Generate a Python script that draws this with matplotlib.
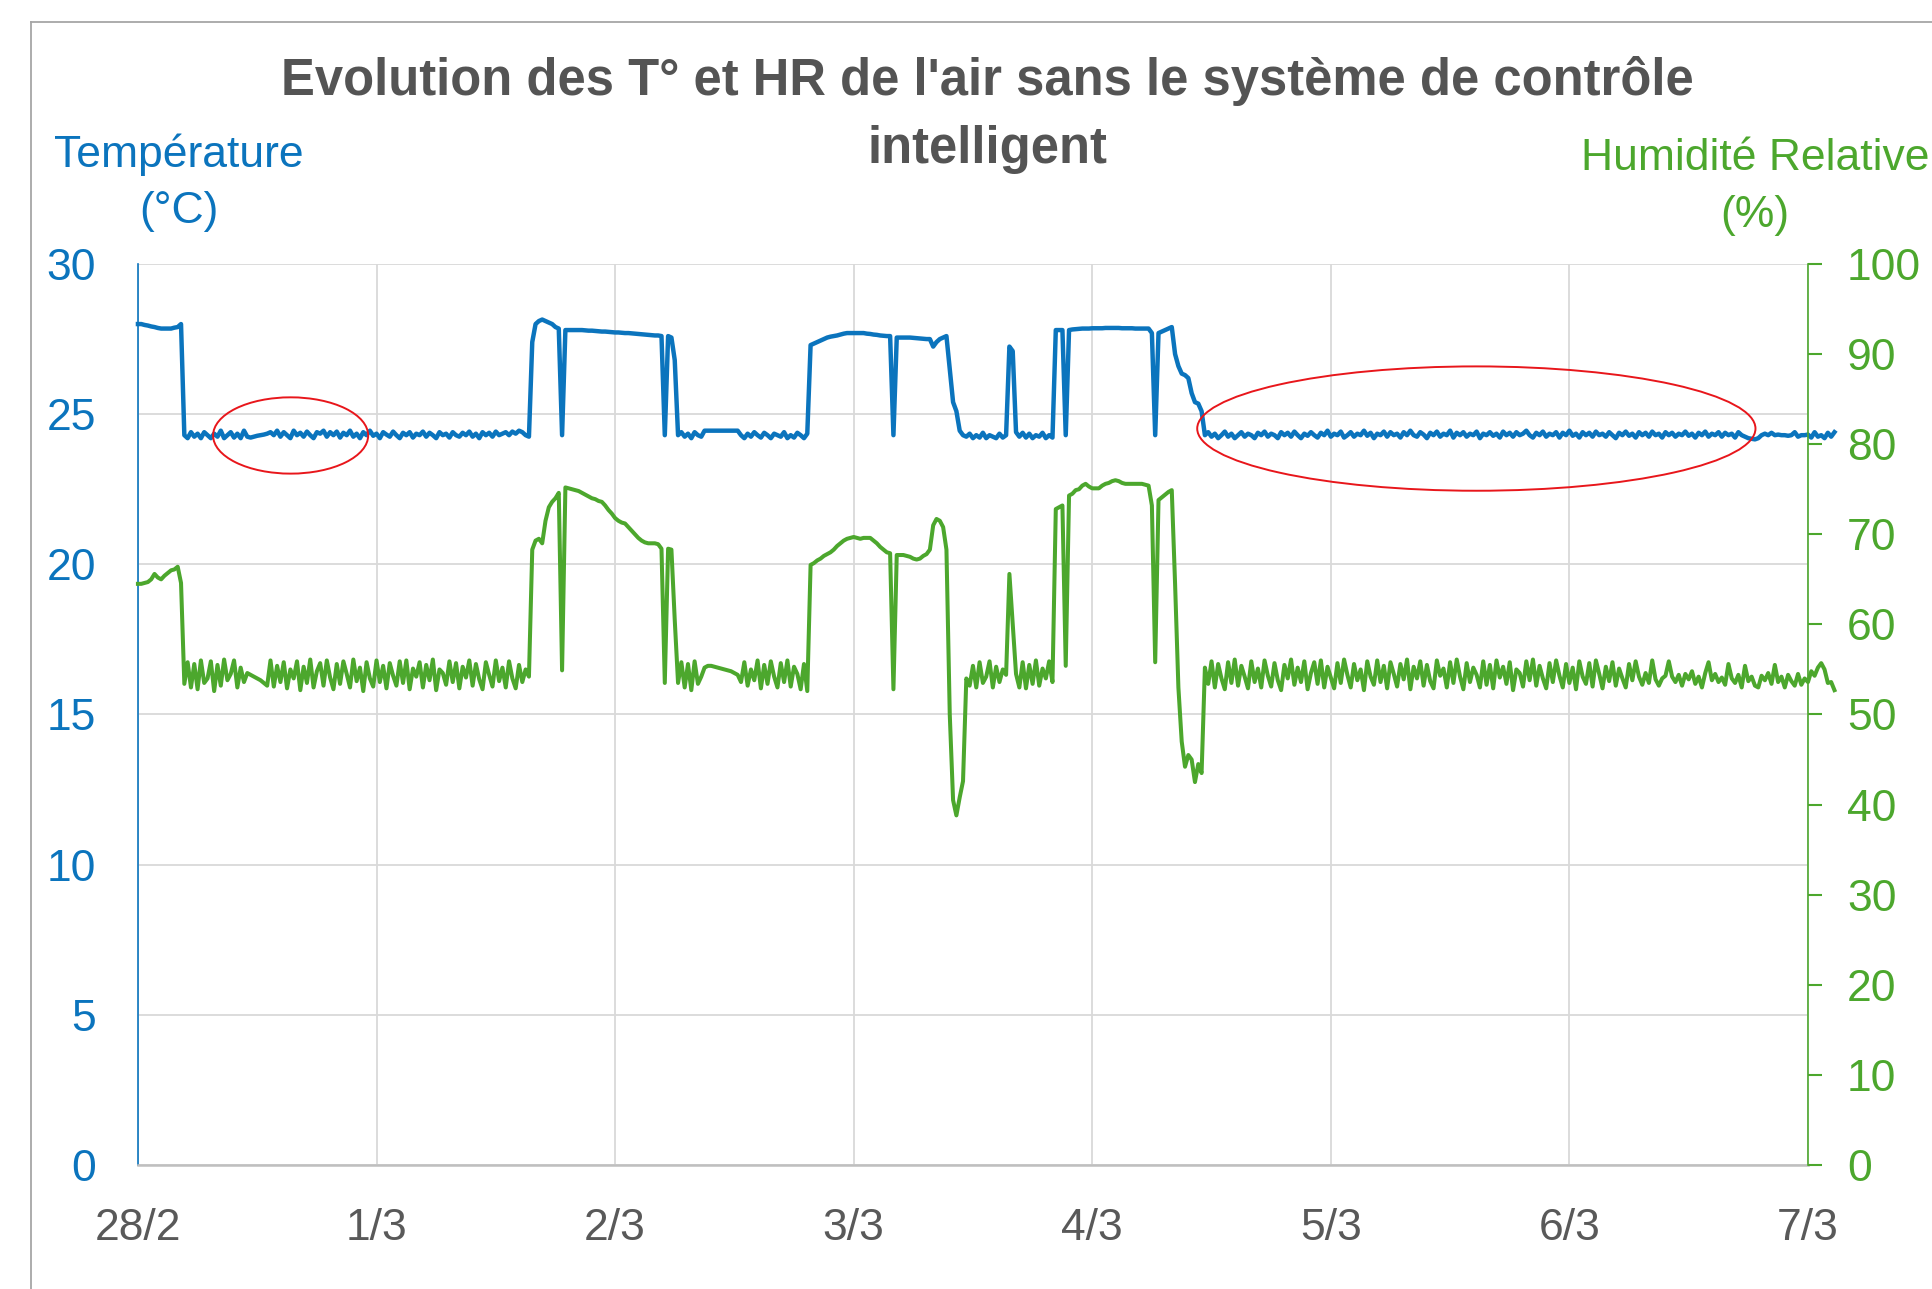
import numpy as np
import pandas as pd
import matplotlib
matplotlib.use('Agg')
import matplotlib.pyplot as plt
from matplotlib.patches import Ellipse
from matplotlib.lines import Line2D

plt.rcParams['font.family'] = ['Liberation Sans', 'DejaVu Sans']

# releves toutes les 20 minutes a partir du 28/2
debut = '2021-02-28'

temperature = [
    28.0, 28.0, 27.97, 27.95, 27.92, 27.9, 27.87, 27.85, 27.85, 27.85,
    27.85, 27.88, 27.9, 28.0, 24.3, 24.2, 24.4, 24.25, 24.35, 24.2,
    24.4, 24.3, 24.2, 24.35, 24.25, 24.45, 24.2, 24.3, 24.4, 24.22,
    24.35, 24.2, 24.45, 24.25, 24.22, 24.25, 24.28, 24.3, 24.32, 24.35,
    24.4, 24.3, 24.45, 24.25, 24.4, 24.3, 24.2, 24.45, 24.3, 24.38,
    24.25, 24.42, 24.3, 24.2, 24.4, 24.35, 24.45, 24.25, 24.4, 24.3,
    24.42, 24.22, 24.38, 24.3, 24.45, 24.25, 24.35, 24.2, 24.4, 24.3,
    24.45, 24.28, 24.35, 24.2, 24.4, 24.32, 24.25, 24.42, 24.3, 24.2,
    24.38, 24.3, 24.4, 24.22, 24.35, 24.3, 24.42, 24.25, 24.38, 24.3,
    24.2, 24.4, 24.3, 24.35, 24.22, 24.4, 24.3, 24.25, 24.38, 24.3,
    24.42, 24.25, 24.35, 24.2, 24.4, 24.3, 24.38, 24.25, 24.42, 24.3,
    24.35, 24.4, 24.3, 24.42, 24.35, 24.45, 24.4, 24.3, 24.25, 27.4,
    28.0, 28.1, 28.15, 28.1, 28.05, 28.0, 27.9, 27.85, 24.3, 27.8,
    27.8, 27.8, 27.8, 27.8, 27.8, 27.79, 27.78, 27.78, 27.77, 27.76,
    27.75, 27.75, 27.74, 27.73, 27.72, 27.72, 27.71, 27.7, 27.7, 27.69,
    27.68, 27.67, 27.66, 27.65, 27.64, 27.63, 27.62, 27.62, 27.6, 24.3,
    27.6, 27.55, 26.8, 24.3, 24.4, 24.25, 24.35, 24.2, 24.4, 24.3,
    24.25, 24.45, 24.45, 24.45, 24.45, 24.45, 24.45, 24.45, 24.45, 24.45,
    24.45, 24.45, 24.3, 24.2, 24.35, 24.25, 24.4, 24.3, 24.22, 24.38,
    24.3, 24.2, 24.35, 24.3, 24.25, 24.4, 24.2, 24.3, 24.22, 24.38,
    24.3, 24.2, 24.35, 27.3, 27.35, 27.4, 27.45, 27.5, 27.55, 27.58,
    27.6, 27.62, 27.65, 27.68, 27.7, 27.7, 27.7, 27.7, 27.7, 27.7,
    27.68, 27.67, 27.65, 27.64, 27.62, 27.61, 27.6, 27.6, 24.3, 27.55,
    27.55, 27.55, 27.55, 27.55, 27.54, 27.53, 27.52, 27.51, 27.5, 27.5,
    27.25, 27.4, 27.5, 27.55, 27.6, 26.5, 25.4, 25.1, 24.45, 24.3,
    24.25, 24.35, 24.2, 24.3, 24.22, 24.38, 24.2, 24.3, 24.25, 24.2,
    24.35, 24.22, 24.3, 27.25, 27.1, 24.4, 24.25, 24.38, 24.22, 24.35,
    24.2, 24.3, 24.25, 24.38, 24.2, 24.3, 24.22, 27.8, 27.8, 27.8,
    24.3, 27.8, 27.82, 27.83, 27.84, 27.85, 27.85, 27.85, 27.86, 27.86,
    27.86, 27.86, 27.87, 27.87, 27.87, 27.87, 27.87, 27.86, 27.86, 27.86,
    27.86, 27.85, 27.85, 27.85, 27.85, 27.85, 27.7, 24.3, 27.7, 27.75,
    27.8, 27.85, 27.9, 27.0, 26.6, 26.35, 26.3, 26.2, 25.7, 25.4,
    25.35, 25.1, 24.3, 24.4, 24.25, 24.35, 24.2, 24.3, 24.42, 24.25,
    24.35, 24.2, 24.3, 24.4, 24.25, 24.35, 24.3, 24.2, 24.38, 24.3,
    24.42, 24.25, 24.35, 24.3, 24.2, 24.4, 24.3, 24.38, 24.25, 24.42,
    24.3, 24.2, 24.35, 24.28, 24.4, 24.3, 24.22, 24.38, 24.3, 24.45,
    24.25, 24.35, 24.3, 24.42, 24.22, 24.3, 24.4, 24.25, 24.35, 24.3,
    24.45, 24.28, 24.38, 24.2, 24.35, 24.3, 24.42, 24.25, 24.4, 24.3,
    24.35, 24.22, 24.4, 24.3, 24.45, 24.3, 24.25, 24.4, 24.32, 24.2,
    24.38, 24.3, 24.42, 24.25, 24.35, 24.3, 24.45, 24.22, 24.38, 24.3,
    24.4, 24.25, 24.35, 24.3, 24.42, 24.2, 24.35, 24.3, 24.4, 24.28,
    24.35, 24.22, 24.42, 24.3, 24.38, 24.25, 24.4, 24.3, 24.35, 24.45,
    24.3, 24.22, 24.38, 24.3, 24.42, 24.25, 24.35, 24.3, 24.4, 24.22,
    24.38, 24.3, 24.45, 24.28, 24.35, 24.22, 24.4, 24.3, 24.38, 24.25,
    24.42, 24.3, 24.35, 24.25, 24.4, 24.3, 24.2, 24.38, 24.3, 24.42,
    24.28, 24.35, 24.22, 24.4, 24.3, 24.38, 24.25, 24.42, 24.3, 24.35,
    24.22, 24.4, 24.3, 24.38, 24.25, 24.35, 24.3, 24.42, 24.28, 24.35,
    24.22, 24.38, 24.3, 24.42, 24.25, 24.35, 24.3, 24.4, 24.25, 24.38,
    24.3, 24.35, 24.22, 24.4, 24.3, 24.25, 24.2, 24.18, 24.16, 24.2,
    24.3, 24.35, 24.3, 24.38, 24.3, 24.32, 24.3, 24.3, 24.28, 24.3,
    24.4, 24.25, 24.3, 24.3, 24.32, 24.22, 24.4, 24.25, 24.3, 24.2,
    24.38, 24.25, 24.4,
]

humidite = [
    64.5, 64.5, 64.6, 64.7, 65.0, 65.6, 65.2, 65.0, 65.4, 65.7,
    66.0, 66.1, 66.4, 64.6, 53.4, 55.8, 53.0, 55.6, 52.8, 56.0,
    53.5, 54.0, 55.9, 52.6, 55.5, 53.2, 56.1, 53.8, 54.5, 56.0,
    53.0, 55.2, 53.6, 54.6, 54.4, 54.2, 54.0, 53.8, 53.5, 53.2,
    56.0, 53.1, 55.4, 53.6, 55.8, 52.9, 55.0, 54.0, 55.9, 52.7,
    55.3, 53.5, 56.1, 53.0, 54.8, 55.7, 53.2, 56.0, 54.1, 52.8,
    55.6, 53.4, 55.9, 54.5, 53.0, 56.1, 53.7, 55.2, 52.6, 55.8,
    54.0, 53.1, 56.0, 53.6, 55.4, 52.9, 55.7, 54.3, 53.2, 55.9,
    53.5, 56.0, 52.8, 55.1, 54.2, 55.8, 53.0, 55.5, 53.8, 56.1,
    52.7, 55.0, 54.6, 53.3, 55.9, 53.6, 55.7, 52.9, 55.3, 54.1,
    56.0, 53.2, 55.6, 53.9, 52.8, 55.8, 54.4, 53.1, 56.0, 53.7,
    55.2, 53.0, 55.9, 54.0, 52.9, 55.5, 53.6, 55.0, 54.2, 68.3,
    69.3, 69.5, 69.0, 71.5, 73.0, 73.6, 74.0, 74.6, 54.9, 75.2,
    75.1, 75.0, 74.9, 74.8, 74.6, 74.4, 74.2, 74.0, 73.9, 73.7,
    73.6, 73.2, 72.7, 72.3, 71.8, 71.5, 71.3, 71.2, 70.8, 70.4,
    70.0, 69.6, 69.3, 69.1, 69.0, 69.0, 69.0, 68.9, 68.4, 53.5,
    68.4, 68.3, 60.5, 53.5, 55.8, 53.0, 55.6, 52.7, 55.9, 53.4,
    54.2, 55.2, 55.4, 55.4, 55.3, 55.2, 55.1, 55.0, 54.9, 54.8,
    54.6, 54.4, 53.6, 55.8, 53.2, 55.0, 53.8, 56.0, 52.9, 55.5,
    53.4, 55.9, 54.2, 53.0, 55.7, 53.6, 56.0, 53.1, 55.3, 54.5,
    52.8, 55.6, 52.6, 66.6, 66.8, 67.1, 67.3, 67.6, 67.8, 68.0,
    68.3, 68.7, 69.0, 69.3, 69.5, 69.6, 69.7, 69.6, 69.5, 69.6,
    69.6, 69.6, 69.3, 69.0, 68.6, 68.3, 68.0, 67.9, 52.8, 67.7,
    67.7, 67.7, 67.6, 67.5, 67.3, 67.2, 67.3, 67.6, 67.8, 68.3,
    71.0, 71.7, 71.5, 70.8, 68.3, 50.0, 40.5, 38.8, 40.8, 42.6,
    54.0, 53.2, 55.4, 53.0, 55.8, 53.5, 54.2, 55.9, 53.0, 55.3,
    53.6, 55.0, 54.4, 65.6, 60.0, 54.5, 53.0, 55.8, 52.9, 55.5,
    53.4, 56.0, 53.2, 55.1, 54.0, 55.9, 53.6, 72.8, 73.0, 73.2,
    55.4, 74.3, 74.5, 74.9, 75.0, 75.4, 75.6, 75.3, 75.1, 75.1,
    75.1, 75.4, 75.6, 75.7, 75.9, 76.0, 75.9, 75.7, 75.6, 75.6,
    75.6, 75.6, 75.6, 75.6, 75.5, 75.4, 73.2, 55.8, 73.8, 74.1,
    74.4, 74.7, 74.9, 64.5, 53.0, 47.0, 44.2, 45.5, 45.0, 42.5,
    44.5, 43.5, 55.2, 53.4, 55.9, 53.0, 55.6, 54.0, 52.8, 55.8,
    53.5, 56.1, 53.2, 55.4, 54.2, 52.9, 55.9, 53.6, 55.1, 53.0,
    56.0, 54.3, 53.1, 55.7, 53.8, 52.7, 55.5, 54.0, 56.1, 53.3,
    55.2, 53.6, 55.9, 52.8, 54.6, 55.8, 53.4, 56.0, 53.0, 55.3,
    54.1, 52.9, 55.7, 53.5, 56.1, 54.4, 53.0, 55.6, 53.8, 55.0,
    52.7, 55.9, 54.2, 53.3, 56.0, 53.6, 55.4, 52.9, 55.8, 54.5,
    53.1, 55.6, 53.9, 56.1, 52.8, 55.3, 54.0, 55.9, 53.2, 55.5,
    53.7, 52.9, 56.0, 54.3, 55.1, 53.0, 55.8, 53.5, 56.1, 54.2,
    52.8, 55.7, 53.6, 55.2, 54.4, 53.0, 55.9, 53.3, 55.5, 52.9,
    56.0, 54.1, 55.3, 53.4, 55.8, 52.7, 55.0, 54.6, 53.1, 55.9,
    53.8, 56.1, 53.2, 55.4, 54.0, 52.9, 55.7, 53.6, 56.0, 54.3,
    53.0, 55.6, 53.5, 55.2, 52.8, 55.9, 54.2, 53.4, 55.7, 53.1,
    56.0, 54.5, 52.9, 55.3, 53.7, 55.8, 53.2, 55.1, 54.0, 53.0,
    55.6, 53.8, 55.9, 54.2, 53.3, 54.6, 53.5, 56.0, 53.9, 53.2,
    54.0, 54.3, 55.9, 54.2, 53.6, 54.4, 53.2, 54.5, 53.9, 54.8,
    53.4, 54.2, 53.0, 54.6, 55.8, 53.8, 54.5, 53.6, 54.1, 53.3,
    55.6, 54.0, 53.5, 54.4, 53.0, 55.4, 53.7, 54.2, 53.2, 53.0,
    54.3, 53.8, 54.6, 53.4, 55.5, 53.6, 54.2, 53.0, 54.4, 53.7,
    53.2, 54.5, 53.3, 54.0, 53.6, 54.8, 54.3, 55.2, 55.7, 55.0,
    53.5, 53.6, 52.7,
]

jours = pd.date_range(debut, periods=8, freq='D')
jours_labels = ['28/2', '1/3', '2/3', '3/3', '4/3', '5/3', '6/3', '7/3']
temp_ticks = [0, 5, 10, 15, 20, 25, 30]
hr_ticks = [0, 10, 20, 30, 40, 50, 60, 70, 80, 90, 100]

# zones entourees : (centre en jours depuis le debut, centre en degres, largeur en jours, hauteur en degres)
zones = [(0.64, 24.29, 0.65, 2.54), (5.61, 24.52, 2.34, 4.14)]

bleu = '#0B74BD'
vert = '#4CA72D'
gris = '#595959'

temps = pd.date_range(debut, periods=len(temperature), freq='20min')

fig = plt.figure(figsize=(19.32, 12.89), dpi=100)
ax = fig.add_axes([0.0714, 0.0962, 0.8644, 0.699])
ax2 = ax.twinx()

ax.plot(temps, temperature, color=bleu, lw=3.2, clip_on=False, zorder=3)
ax2.plot(temps, humidite, color=vert, lw=2.9, clip_on=False, zorder=3)

t0 = matplotlib.dates.date2num(pd.Timestamp(debut))
for cx, cy, w, h in zones:
    ax.add_patch(Ellipse((t0 + cx, cy), w, h, fill=False, edgecolor='#E8161B', lw=1.4, zorder=4))

ax.set_xlim(jours[0], jours[-1])
ax.set_ylim(0, 30)
ax2.set_ylim(0, 100)
ax.set_xticks(jours)
ax.set_xticklabels(jours_labels)
ax.set_yticks(temp_ticks)
ax2.set_yticks(hr_ticks)

ax.grid(True, color='#D9D9D9', lw=1.3)
ax.set_axisbelow(True)

for s in ['top', 'right']:
    ax.spines[s].set_visible(False)
for s in ['top', 'left', 'bottom']:
    ax2.spines[s].set_visible(False)
ax.spines['left'].set_color(bleu)
ax.spines['left'].set_linewidth(1.2)
ax.spines['bottom'].set_color('#BFBFBF')
ax.spines['bottom'].set_linewidth(1.8)
ax2.spines['right'].set_color(vert)
ax2.spines['right'].set_linewidth(1.2)

ax.tick_params(axis='y', length=0, pad=30, labelsize=32, labelcolor=bleu)
ax.tick_params(axis='x', length=0, pad=31, labelsize=32, labelcolor=gris)
ax2.tick_params(axis='y', length=10, width=1.5, color=vert, pad=18, labelsize=32, labelcolor=vert)

H = 1289.0
W = 1932.0
fig.text(987 / W, 1 - 95 / H, "Evolution des T° et HR de l'air sans le système de contrôle",
         ha='center', va='baseline', fontsize=36.5, fontweight='bold', color='#545454')
fig.text(987 / W, 1 - 163 / H, 'intelligent',
         ha='center', va='baseline', fontsize=36.5, fontweight='bold', color='#545454')
fig.text(179 / W, 1 - 167 / H, 'Température', ha='center', va='baseline', fontsize=32, color=bleu)
fig.text(179 / W, 1 - 223 / H, '(°C)', ha='center', va='baseline', fontsize=32, color=bleu)
fig.text(1755 / W, 1 - 170 / H, 'Humidité Relative', ha='center', va='baseline', fontsize=32, color=vert)
fig.text(1755 / W, 1 - 227 / H, '(%)', ha='center', va='baseline', fontsize=32, color=vert)

# cadre du graphique
fig.add_artist(Line2D([31 / W, 1], [1 - 22 / H, 1 - 22 / H], color='#A6A6A6', lw=1.3))
fig.add_artist(Line2D([31 / W, 31 / W], [0, 1 - 22 / H], color='#A6A6A6', lw=1.3))

fig.savefig('out.png', dpi=100)
